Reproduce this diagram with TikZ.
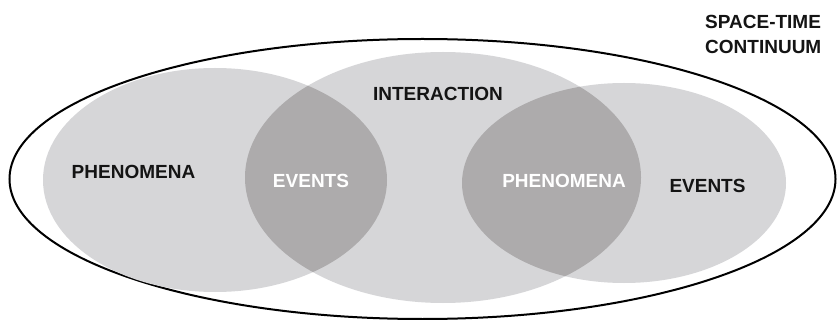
\documentclass[tikz,border=0pt]{standalone}
\usepackage{fontspec}
\setmainfont{Liberation Sans}
\definecolor{lightg}{RGB}{214,214,216}
\definecolor{darkg}{RGB}{173,171,172}
\definecolor{txt}{RGB}{20,20,20}
\tikzset{
  lbl/.style={font=\fontsize{19}{24.3}\selectfont\bfseries, text=txt, inner sep=0pt, anchor=center},
  wlbl/.style={lbl, text=white},
}
\begin{document}
\begin{tikzpicture}[x=1pt,y=-1pt]
\useasboundingbox (0,0) rectangle (837,320);
\fill[white] (0,0) rectangle (837,320);
% outer space-time ellipse
\draw[line width=2pt, black] (422.5,179) ellipse [x radius=413, y radius=140];
% sets
\fill[lightg] (215,180) ellipse [x radius=172, y radius=112];
\fill[lightg] (443,177.5) ellipse [x radius=198, y radius=125.5];
\fill[lightg] (624,183) ellipse [x radius=162, y radius=100];
% overlaps
\begin{scope}
\clip (215,180) ellipse [x radius=172, y radius=112];
\fill[darkg] (443,177.5) ellipse [x radius=198, y radius=125.5];
\end{scope}
\begin{scope}
\clip (624,183) ellipse [x radius=162, y radius=100];
\fill[darkg] (443,177.5) ellipse [x radius=198, y radius=125.5];
\end{scope}
% labels
\node[lbl] (phen1) at (133.5,171.7) {PHENOMENA};
\node[wlbl] (ev1) at (311,180.5) {EVENTS};
\node[lbl] (inter) at (438,93.5) {INTERACTION};
\node[wlbl] (phen2) at (564,180.5) {PHENOMENA};
\node[lbl] (ev2) at (707.5,185.5) {EVENTS};
\node[lbl, align=left, anchor=north west] (stc) at (705,15.3) {SPACE-TIME\\CONTINUUM};
\end{tikzpicture}
\end{document}
